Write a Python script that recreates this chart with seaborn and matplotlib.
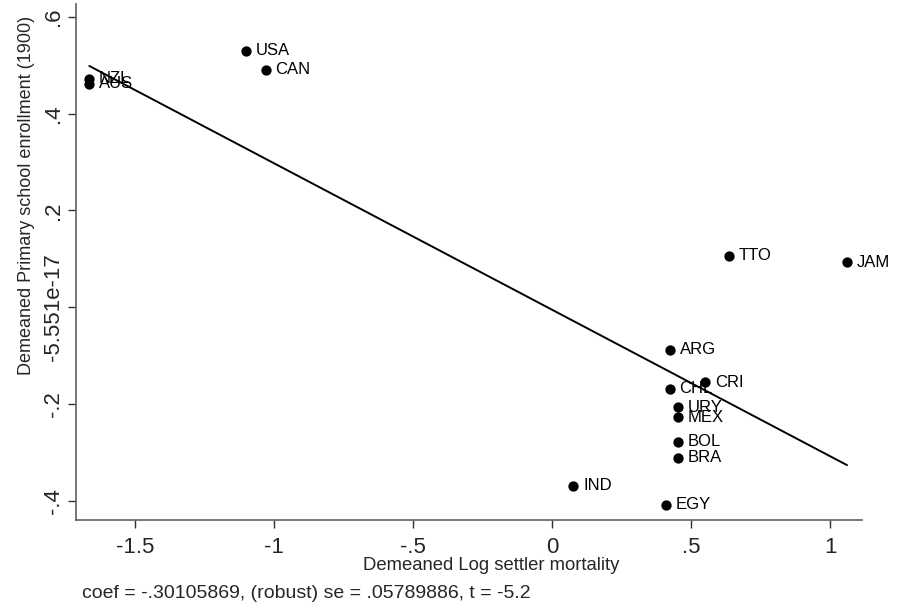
import matplotlib
matplotlib.use("Agg")
import matplotlib.pyplot as plt
import seaborn as sns
import pandas as pd
import numpy as np

countries = ["NZL", "AUS", "USA", "CAN", "TTO", "JAM", "ARG", "CRI", "CHL",
             "URY", "MEX", "BOL", "BRA", "EGY", "IND"]
log_mortality = [-1.665, -1.665, -1.102, -1.031, 0.635, 1.060, 0.423, 0.550, 0.423,
                 0.453, 0.453, 0.453, 0.453, 0.409, 0.076]
enrollment = [0.472, 0.462, 0.530, 0.491, 0.106, 0.093, -0.088, -0.155, -0.169,
              -0.207, -0.228, -0.278, -0.311, -0.408, -0.369]

xticks = [-1.5, -1.0, -0.5, 0.0, 0.5, 1.0]
xticklabels = ["-1.5", "-1", "-.5", "0", ".5", "1"]
yticks = [-0.4, -0.2, 0.0, 0.2, 0.4, 0.6]
yticklabels = ["-.4", "-.2", "-5.551e-17", ".2", ".4", ".6"]

note = "coef = -.30105869, (robust) se = .05789886, t = -5.2"
xlabel = "Demeaned Log settler mortality"
ylabel = "Demeaned Primary school enrollment (1900)"

df = pd.DataFrame({"country": countries, "x": log_mortality, "y": enrollment})

sns.set_style("ticks")
plt.rcParams["font.family"] = ["Liberation Sans", "DejaVu Sans"]

fig = plt.figure(figsize=(9.13, 6.08), dpi=100)
ax = fig.add_axes([76 / 913, 1 - 520 / 608, (862 - 76) / 913, (520 - 4) / 608])

sns.regplot(data=df, x="x", y="y", scatter=False, ci=None, ax=ax,
            line_kws=dict(color="black", lw=1.4))
sns.scatterplot(data=df, x="x", y="y", ax=ax, color="black", s=55,
                edgecolor="black", linewidth=0, zorder=3)

for c, xv, yv in zip(countries, log_mortality, enrollment):
    ax.annotate(c, (xv, yv), xytext=(7, 0), textcoords="offset points",
                ha="left", va="center", fontsize=12, color="black")

ax.set_xlim(-1.713, 1.114)
ax.set_ylim(-0.44, 0.627)
ax.set_xticks(xticks)
ax.set_xticklabels(xticklabels)
ax.set_yticks(yticks)
ax.set_yticklabels(yticklabels, rotation=90, va="center")
ax.tick_params(axis="both", direction="out", length=6, width=1,
               color="#303030", labelsize=16)
ax.tick_params(axis="x", pad=6)
ax.tick_params(axis="y", pad=3)
ax.set_xlabel("")
ax.set_ylabel("")

for side in ["top", "right"]:
    ax.spines[side].set_visible(False)
for side in ["left", "bottom"]:
    ax.spines[side].set_color("#606060")
    ax.spines[side].set_linewidth(1.2)

fig.text(27 / 913, 1 - 195 / 608, ylabel, rotation=90, ha="center", va="center",
         fontsize=13)
fig.text(491 / 913, 1 - 566 / 608, xlabel, ha="center", va="center", fontsize=13.3)
fig.text(82 / 913, 1 - 593 / 608, note, ha="left", va="center", fontsize=14)

fig.savefig("out.png", dpi=100, facecolor="white")
